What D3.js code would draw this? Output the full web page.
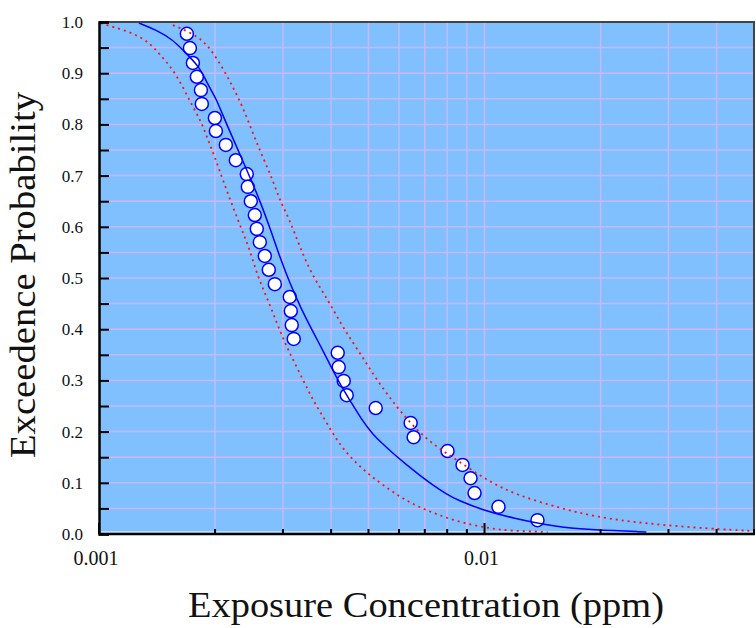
<html>
<head>
<meta charset="UTF-8">
<script src="https://cdn.jsdelivr.net/npm/d3@7"></script>
<style>
	body { margin: 0; background: #fff; }
	.grid line { stroke: #c8b8f8; stroke-width: 1.5; }
	.fit { fill: none; stroke: #0000ff; stroke-width: 1.5; }
	.band { fill: none; stroke: #ff1010; stroke-width: 1.8; stroke-dasharray: 2,4; }
	.pts circle { fill: #fff; stroke: #0000ff; stroke-width: 1.5; }
	text { font-family: "Liberation Serif", "Times New Roman", serif; fill: #111; }
</style>
</head>
<body>
<div id="chart"></div>
<script>
// observed exposure concentrations (ppm) and exceedence probabilities
var obsX = [0.001690, 0.001721, 0.001752, 0.001794, 0.001838, 0.001848, 0.001998, 0.002010,
	0.002133, 0.002264, 0.002417, 0.002432, 0.002476, 0.002536, 0.002566, 0.002613,
	0.002692, 0.002757, 0.002858, 0.003125, 0.003144, 0.003162, 0.003200, 0.004161,
	0.004186, 0.004313, 0.004391, 0.005221, 0.006432, 0.006549, 0.008019, 0.008770,
	0.009199, 0.009421, 0.01087, 0.01372];
var obsY = [0.977, 0.949, 0.920, 0.893, 0.867, 0.840, 0.8125, 0.787,
	0.760, 0.730, 0.703, 0.678, 0.650, 0.623, 0.596, 0.570,
	0.543, 0.516, 0.488, 0.463, 0.4355, 0.408, 0.381, 0.354,
	0.326, 0.299, 0.271, 0.246, 0.217, 0.189, 0.162, 0.135,
	0.109, 0.080, 0.053, 0.027];

// fitted curve
var fitX = [0.001269, 0.001413, 0.001555, 0.001651, 0.001826, 0.001905, 0.002021, 0.002083,
	0.002251, 0.002417, 0.002613, 0.002806, 0.002944, 0.003125, 0.003357, 0.003584,
	0.003804, 0.004040, 0.004262, 0.004470, 0.004801, 0.005128, 0.005443, 0.005777,
	0.006281, 0.006787, 0.007334, 0.007971, 0.008513, 0.00988, 0.01181, 0.01537,
	0.01905, 0.02629];
var fitY = [0.998, 0.984, 0.965, 0.945, 0.912, 0.881, 0.848, 0.822,
	0.764, 0.711, 0.652, 0.588, 0.541, 0.490, 0.4375, 0.396,
	0.359, 0.320, 0.287, 0.262, 0.223, 0.195, 0.176, 0.158,
	0.135, 0.115, 0.0957, 0.078, 0.066, 0.047, 0.031, 0.0137,
	0.0078, 0.004];

// lower confidence bound
var loX = [0.001012, 0.001087, 0.001225, 0.001356, 0.001439, 0.001546, 0.001651, 0.001752,
	0.001848, 0.001916, 0.001998, 0.002096, 0.002224, 0.002347, 0.002462, 0.002582,
	0.002724, 0.002892, 0.003069, 0.003317, 0.003584, 0.003897, 0.004287, 0.004946,
	0.005675, 0.006393, 0.007334, 0.008614, 0.01012, 0.01161, 0.01457];
var loY = [0.998, 0.990, 0.979, 0.959, 0.936, 0.910, 0.873, 0.834,
	0.803, 0.770, 0.736, 0.691, 0.639, 0.594, 0.555, 0.502,
	0.463, 0.412, 0.365, 0.314, 0.262, 0.217, 0.164, 0.119,
	0.086, 0.061, 0.041, 0.023, 0.012, 0.006, 0.004];

// upper confidence bound
var hiX = [0.001555, 0.001721, 0.001848, 0.001939, 0.002096, 0.002224, 0.002361, 0.002506,
	0.002660, 0.002824, 0.002944, 0.003125, 0.003317, 0.003520, 0.003737, 0.003967,
	0.004287, 0.004746, 0.005252, 0.005916, 0.006665, 0.007510, 0.008463, 0.01012,
	0.01210, 0.01564, 0.01951, 0.02629, 0.03896, 0.04946];
var hiY = [0.994, 0.980, 0.965, 0.949, 0.910, 0.873, 0.834, 0.783,
	0.736, 0.691, 0.652, 0.613, 0.561, 0.516, 0.482, 0.451,
	0.404, 0.354, 0.301, 0.248, 0.203, 0.170, 0.145, 0.105,
	0.076, 0.051, 0.033, 0.020, 0.010, 0.006];

var yTicks = [0, 0.1, 0.2, 0.3, 0.4, 0.5, 0.6, 0.7, 0.8, 0.9, 1.0];
var xLabels = [0.001, 0.01];

(function(d3) {
	var W = 756, H = 628;
	var left = 99, right = 754, top = 22, bottom = 534;

	var svg = d3.select("#chart").append("svg")
		.attr("width", W).attr("height", H);

	var x = d3.scaleLog().domain([0.001, 0.05]).range([left, right]);
	var y = d3.scaleLinear().domain([0, 1]).range([bottom, top]);

	// plot background
	svg.append("rect")
		.attr("x", left).attr("y", top)
		.attr("width", right - left).attr("height", bottom - top)
		.attr("fill", "#80c0ff");

	// grid
	var xGrid = x.ticks().filter(function(v) { return v > 0.001 && v < 0.05; });
	var yGrid = d3.range(1, 20).map(function(i) { return i * 0.05; });
	var grid = svg.append("g").attr("class", "grid");
	grid.selectAll("line.v").data(xGrid).enter().append("line")
		.attr("class", "v")
		.attr("x1", function(d) { return x(d); }).attr("x2", function(d) { return x(d); })
		.attr("y1", top).attr("y2", bottom);
	grid.selectAll("line.h").data(yGrid).enter().append("line")
		.attr("class", "h")
		.attr("x1", left).attr("x2", right)
		.attr("y1", function(d) { return y(d); }).attr("y2", function(d) { return y(d); });

	// thin white strip just above the bottom axis
	svg.append("line").attr("x1", left).attr("x2", right).attr("y1", bottom - 2).attr("y2", bottom - 2)
		.attr("stroke", "#fff").attr("stroke-width", 1);

	var line = d3.line()
		.x(function(d) { return x(d[0]); })
		.y(function(d) { return y(d[1]); })
		.curve(d3.curveBasis);

	// points
	svg.append("g").attr("class", "pts")
		.selectAll("circle")
		.data(d3.zip(obsX, obsY)).enter()
		.append("circle")
		.attr("cx", function(d) { return x(d[0]); })
		.attr("cy", function(d) { return y(d[1]); })
		.attr("r", 6.5);

	// curves drawn over the points
	svg.append("path").attr("class", "band").attr("d", line(d3.zip(loX, loY)));
	svg.append("path").attr("class", "band").attr("d", line(d3.zip(hiX, hiY)));
	svg.append("path").attr("class", "fit").attr("d", line(d3.zip(fitX, fitY)));

	// frame
	svg.append("line").attr("x1", left).attr("x2", right + 1).attr("y1", top).attr("y2", top)
		.attr("stroke", "#444").attr("stroke-width", 2);
	svg.append("line").attr("x1", right).attr("x2", right).attr("y1", top).attr("y2", bottom)
		.attr("stroke", "#444").attr("stroke-width", 2);

	// y axis, ticks pointing inward
	var yAxis = d3.axisRight(y)
		.tickValues(d3.range(0, 21).map(function(i) { return i * 0.05; }))
		.tickSize(10)
		.tickFormat("");
	var gy = svg.append("g").attr("transform", "translate(" + left + ",0)").call(yAxis);
	gy.select(".domain").attr("stroke", "#000").attr("stroke-width", 2.5);
	gy.selectAll(".tick line").attr("stroke", "#000").attr("stroke-width", 2);

	svg.selectAll("text.ylab")
		.data(yTicks).enter()
		.append("text")
		.attr("class", "ylab")
		.attr("x", left - 16)
		.attr("y", function(d) { return y(d) + 6; })
		.attr("text-anchor", "end")
		.style("font-size", "17px")
		.text(function(d) { return d3.format(".1f")(d); });

	// x axis, ticks pointing inward
	var xMinor = x.ticks().filter(function(v) { return xLabels.indexOf(v) < 0; });
	var gx = svg.append("g").attr("transform", "translate(0," + bottom + ")");
	gx.append("line").attr("x1", left).attr("x2", right + 1).attr("y1", 0).attr("y2", 0)
		.attr("stroke", "#000").attr("stroke-width", 2.5);
	gx.selectAll("line.minor").data(xMinor).enter().append("line")
		.attr("class", "minor")
		.attr("x1", function(d) { return x(d); }).attr("x2", function(d) { return x(d); })
		.attr("y1", 0).attr("y2", -5)
		.attr("stroke", "#000").attr("stroke-width", 2);
	gx.selectAll("line.major").data(xLabels).enter().append("line")
		.attr("class", "major")
		.attr("x1", function(d) { return x(d); }).attr("x2", function(d) { return x(d); })
		.attr("y1", 0).attr("y2", -11)
		.attr("stroke", "#000").attr("stroke-width", 2);

	svg.selectAll("text.xlab")
		.data(xLabels).enter()
		.append("text")
		.attr("class", "xlab")
		.attr("x", function(d) { return x(d) - 3; })
		.attr("y", 565)
		.attr("text-anchor", "middle")
		.style("font-size", "20px")
		.text(function(d) { return String(d); });

	// titles (glyphs slightly stretched like the original)
	svg.append("text")
		.attr("x", 188).attr("y", 617)
		.attr("textLength", 476)
		.attr("lengthAdjust", "spacingAndGlyphs")
		.style("font-size", "36px")
		.text("Exposure Concentration (ppm)");

	svg.append("text")
		.attr("transform", "translate(35,458) rotate(-90)")
		.attr("textLength", 366)
		.attr("lengthAdjust", "spacingAndGlyphs")
		.style("font-size", "36px")
		.text("Exceedence Probability");
})(window.d3);
</script>
</body>
</html>
